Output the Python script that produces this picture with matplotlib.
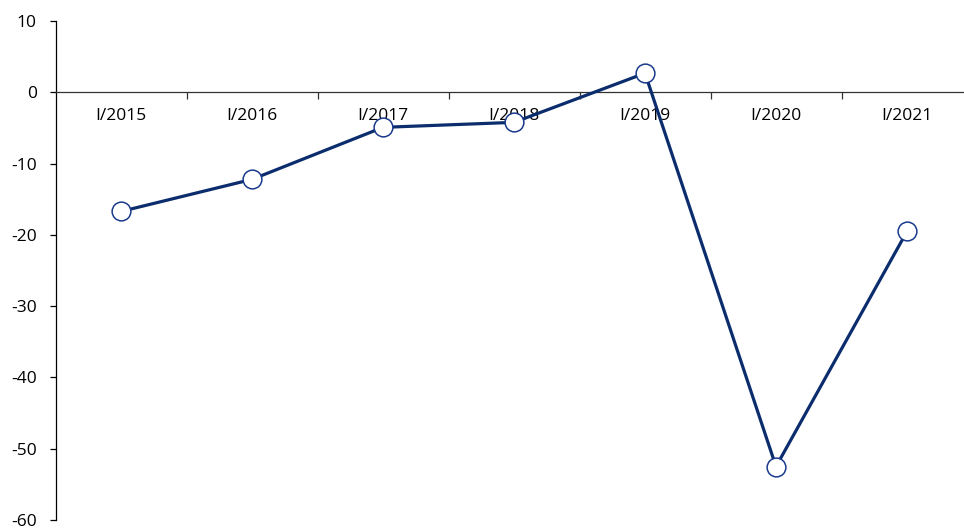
import numpy as np
import matplotlib.pyplot as plt
from matplotlib.ticker import FixedLocator, NullFormatter

plt.rcParams['font.family'] = ['Open Sans', 'DejaVu Sans']

periods = ['I/2015', 'I/2016', 'I/2017', 'I/2018', 'I/2019', 'I/2020', 'I/2021']
values = [-16.7, -12.2, -4.9, -4.2, 2.7, -52.5, -19.5]
y_ticks = [10, 0, -10, -20, -30, -40, -50, -60]

navy = '#0b2d6e'

fig = plt.figure(figsize=(9.64, 5.29), dpi=100)
ax = fig.add_axes([0.0576, 0.017, 0.9424, 0.943])

x = np.arange(len(periods))
ax.plot(x, values, color=navy, lw=2.3, marker='o', ms=13.5,
        markerfacecolor='white', markeredgecolor='#1a3a8c', markeredgewidth=1.1,
        zorder=3)

ax.set_ylim(-60, 10)
ax.set_xlim(-0.5, -0.5 + 908.5 / 131)
ax.set_yticks(y_ticks)
ax.set_yticklabels([str(v) for v in y_ticks])

# category labels sit under the zero line, ticks mark the boundaries
ax.spines['bottom'].set_position(('data', 0))
ax.spines['bottom'].set_color('#333333')
ax.spines['bottom'].set_linewidth(0.9)
ax.spines['top'].set_visible(False)
ax.spines['right'].set_visible(False)
ax.spines['left'].set_linewidth(0.9)

ax.xaxis.set_major_locator(FixedLocator(np.arange(0.5, len(periods) - 0.5)))
ax.xaxis.set_major_formatter(NullFormatter())
ax.xaxis.set_minor_locator(FixedLocator(x))
ax.set_xticklabels(periods, minor=True)
ax.tick_params(axis='x', which='major', direction='out', length=5, width=0.9,
               color='#333333')
ax.tick_params(axis='x', which='minor', length=0, pad=11, labelsize=12.5)
ax.tick_params(axis='y', direction='out', length=4.5, width=0.9, pad=9,
               labelsize=12.5)

fig.savefig('out.png', dpi=100)
